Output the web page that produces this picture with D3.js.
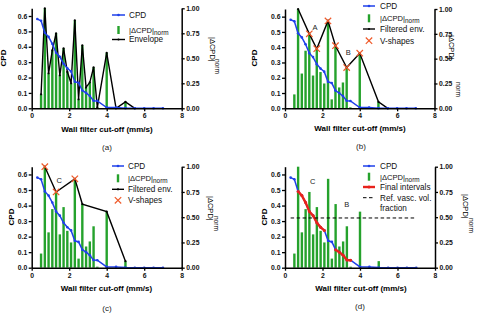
<!DOCTYPE html>
<html><head><meta charset="utf-8">
<script src="https://cdn.jsdelivr.net/npm/d3@7"></script>
<style>
html,body{margin:0;padding:0;background:#fff;}
svg{display:block;font-family:"Liberation Sans",Arial,sans-serif;}
</style></head>
<body><svg id="chart" width="480" height="322"></svg>
<script>
// ---------- data ----------
const cutoffCPD = [0.3,0.5,0.7,0.9,1.1,1.3,1.5,1.7,1.9,2.1,2.3,2.5,2.7,2.9,3.1,3.3,3.5,4.0,4.5,5.0,5.5,6.0,6.5,7.0];
const cpdValues = [0.580,0.569,0.491,0.464,0.419,0.361,0.335,0.289,0.260,0.240,0.173,0.166,0.116,0.100,0.080,0.049,0.048,0.005,0.005,0.001,0.000,0.000,0.000,0.000];
const cutoffDelta = [0.5,0.7,0.9,1.1,1.3,1.5,1.7,1.9,2.1,2.3,2.5,2.7,2.9,3.1,3.3,3.5,4.0,4.5,5.0,5.5];
const deltaNorm = [0.14,1.00,0.35,0.58,0.75,0.33,0.60,0.365,0.25,0.88,0.09,0.63,0.21,0.26,0.41,0.01,0.555,0.0,0.065,0.0];
const filtEnvBx = [0.7,1.3,1.7,2.3,2.7,3.3,4.0,5.0,5.5];
const filtEnvBy = [1.00,0.75,0.60,0.88,0.63,0.41,0.555,0.065,0.0];
const vShapeBx = [1.3,1.7,2.3,2.7,3.3,4.0];
const vShapeBy = [0.75,0.60,0.88,0.63,0.41,0.555];
const filtEnvCx = [0.7,1.3,2.3,2.7,4.0,5.0];
const filtEnvCy = [1.00,0.75,0.88,0.63,0.555,0.065];
const vShapeCx = [0.7,1.3,2.3];
const vShapeCy = [1.00,0.75,0.88];
const intervalStart = [0.7,2.7];
const intervalEnd = [2.1,3.5];
const refFraction = 0.32;
const refRange = [0.3,7.0];
const xTicks = [0,2,4,6,8];
const leftTicks = [0,0.1,0.2,0.3,0.4,0.5,0.6];
const rightTicks = [0,0.25,0.5,0.75,1.0];
const captions = ["(a)","(b)","(c)","(d)"];

// ---------- style ----------
const BLUE="#1f40ea", GREEN="#25a22c", RED="#e8231c", XCOL="#ef5a2a";
const svg = d3.select("#chart");

const panels = [
 {id:"a", x0:31.7,x1:181.7,yT:8.3,yB:108.3, cpdLab:[3,58], rl:[212.5,37,217,59], xt:[107,131.5], cap:[107,150],
  leg:{sx:112,ex:125,tx:129, rows:[["cpd","CPD",15],["bar","",30],["env","Envelope",39.5]]},
  env:"all", labels:[]},
 {id:"b", x0:285,x1:434.5,yT:9,yB:108.3, cpdLab:[254.5,58], rl:[452,35,458,82], xt:[360,131], cap:[361,149],
  leg:{sx:363,ex:375,tx:380, rows:[["cpd","CPD",6],["bar","",18.3],["env","Filtered env.",29],["vs","V-shapes",40.7]]},
  env:"B", labels:[["A",315,27.3],["B",348.3,52.3]]},
 {id:"c", x0:31.7,x1:181.7,yT:166.7,yB:267.7, cpdLab:[11,217], rl:[211,196,216,216], xt:[106.5,291], cap:[107,311],
  leg:{sx:112,ex:124,tx:128, rows:[["cpd","CPD",166],["bar","",178.3],["env","Filtered env.",189.3],["vs","V-shapes",200.3]]},
  env:"C", labels:[["C",59.3,180]]},
 {id:"d", x0:285,x1:435,yT:166.7,yB:267.7, cpdLab:[264,217], rl:[466,194,471,218], xt:[361,291], cap:[360,309],
  leg:{sx:363,ex:375,tx:380, rows:[["cpd","CPD",166],["bar","",176.7],["final","Final intervals",187],["ref","Ref. vasc. vol.",197.7]]},
  env:"D", labels:[["C",312.7,181.7],["B",346.7,204.3]]}
];

function cross(g,cx,cy,s,col,w){
  g.append("path").attr("d",`M${cx-s},${cy-s}L${cx+s},${cy+s}M${cx-s},${cy+s}L${cx+s},${cy-s}`)
   .attr("stroke",col).attr("stroke-width",w).attr("fill","none");
}

panels.forEach((p,pi)=>{
  const g = svg.append("g");
  const x = d3.scaleLinear().domain([0,8]).range([p.x0,p.x1]);
  const yL = d3.scaleLinear().domain([0,0.65]).range([p.yB,p.yT]);
  const yR = d3.scaleLinear().domain([0,1]).range([p.yB,p.yT]);

  // bars
  g.selectAll("rect.bar").data(cutoffDelta.map((c,i)=>({c,v:deltaNorm[i]})).filter(d=>d.v>0))
   .join("rect").attr("x",d=>x(d.c)-1.2).attr("width",2.4)
   .attr("y",d=>yR(d.v)).attr("height",d=>yR(0)-yR(d.v)).attr("fill",GREEN);

  // envelopes
  const lineR = d3.line().x(d=>x(d[0])).y(d=>yR(d[1]));
  let envPts = null;
  if(p.env==="all") envPts = cutoffDelta.map((c,i)=>[c,deltaNorm[i]]);
  if(p.env==="B") envPts = filtEnvBx.map((c,i)=>[c,filtEnvBy[i]]);
  if(p.env==="C") envPts = filtEnvCx.map((c,i)=>[c,filtEnvCy[i]]);
  if(envPts){
    g.append("path").attr("d",lineR(envPts)).attr("fill","none").attr("stroke","#000").attr("stroke-width",1.4);
    envPts.forEach(d=>g.append("circle").attr("cx",x(d[0])).attr("cy",yR(d[1])).attr("r",1.1).attr("fill","#000"));
  }

  // CPD line
  const cpdPts = cutoffCPD.map((c,i)=>[c,cpdValues[i]]);
  const lineL = d3.line().x(d=>x(d[0])).y(d=>yL(d[1]));
  g.append("path").attr("d",lineL(cpdPts)).attr("fill","none").attr("stroke",BLUE).attr("stroke-width",1.5);
  cpdPts.forEach(d=>g.append("circle").attr("cx",x(d[0])).attr("cy",yL(d[1])).attr("r",1.3).attr("fill",BLUE));

  if(p.env==="D"){
    intervalStart.forEach((s,k)=>{
      const pts = cpdPts.filter(d=>d[0]>=s-1e-9 && d[0]<=intervalEnd[k]+1e-9);
      g.append("path").attr("d",lineL(pts)).attr("fill","none").attr("stroke",RED).attr("stroke-width",2.4);
      pts.forEach(d=>g.append("circle").attr("cx",x(d[0])).attr("cy",yL(d[1])).attr("r",1.5).attr("fill",RED));
    });
    g.append("line").attr("x1",x(refRange[0])).attr("x2",x(refRange[1]))
     .attr("y1",yL(refFraction)).attr("y2",yL(refFraction))
     .attr("stroke","#000").attr("stroke-width",1).attr("stroke-dasharray","3.5,2.5");
  }
  // V-shapes
  let vx=null, vy=null;
  if(p.env==="B"){vx=vShapeBx;vy=vShapeBy;}
  if(p.env==="C"){vx=vShapeCx;vy=vShapeCy;}
  if(vx) vx.forEach((c,i)=>cross(g,x(c),yR(vy[i]),3.2,XCOL,1.2));

  // axes
  const fs = "6.8px";
  const ax = g.append("g").attr("transform",`translate(0,${p.yB})`)
    .call(d3.axisBottom(x).tickValues(xTicks).tickFormat(d3.format("d")).tickSize(3).tickSizeOuter(0).tickPadding(2));
  const al = g.append("g").attr("transform",`translate(${p.x0},0)`)
    .call(d3.axisLeft(yL).tickValues(leftTicks).tickFormat(d3.format(".1f")).tickSize(3).tickSizeOuter(0).tickPadding(1.5));
  const ar = g.append("g").attr("transform",`translate(${p.x1},0)`)
    .call(d3.axisRight(yR).tickValues(rightTicks).tickFormat(d3.format(".2f")).tickSize(3).tickSizeOuter(0).tickPadding(1.5));
  [ax,al,ar].forEach(a=>{
    a.selectAll(".domain").attr("stroke","#000").attr("stroke-width",1.5);
    a.selectAll(".tick line").attr("stroke","#000").attr("stroke-width",1.3);
    a.selectAll("text").attr("font-size",fs).attr("font-weight","bold").attr("fill","#111")
      .attr("font-family","Liberation Sans, Arial, sans-serif");
  });

  // titles
  g.append("text").attr("x",p.xt[0]).attr("y",p.xt[1]).attr("text-anchor","middle")
   .attr("font-size","8px").attr("font-weight","bold").text("Wall filter cut-off (mm/s)");
  g.append("text").attr("transform",`translate(${p.cpdLab[0]},${p.cpdLab[1]}) rotate(-90)`)
   .attr("text-anchor","middle").attr("dy","0.35em").attr("font-size","8px").attr("font-weight","bold").text("CPD");
  g.append("text").attr("transform",`translate(${p.rl[0]},${p.rl[1]}) rotate(90)`)
   .attr("dy","0.35em").attr("font-size","7.5px").text("|ΔCPD|");
  g.append("text").attr("transform",`translate(${p.rl[2]},${p.rl[3]}) rotate(90)`)
   .attr("dy","0.35em").attr("font-size","6.5px").text("norm");
  g.append("text").attr("x",p.cap[0]).attr("y",p.cap[1]).attr("text-anchor","middle")
   .attr("font-size","8px").attr("fill","#222").text(captions[pi]);
  p.labels.forEach(l=>g.append("text").attr("x",l[1]).attr("y",l[2]).attr("dy","0.35em")
   .attr("text-anchor","middle").attr("font-size","7.5px").attr("fill","#222").text(l[0]));

  // legend
  const L = p.leg, mx=(L.sx+L.ex)/2;
  L.rows.forEach(r=>{
    const [type,label,cy]=r;
    if(type==="cpd"){
      g.append("line").attr("x1",L.sx).attr("x2",L.ex).attr("y1",cy).attr("y2",cy).attr("stroke",BLUE).attr("stroke-width",1.5);
      g.append("circle").attr("cx",mx).attr("cy",cy).attr("r",1.3).attr("fill",BLUE);
    } else if(type==="bar"){
      g.append("rect").attr("x",mx-1.2).attr("width",2.4).attr("y",cy-4).attr("height",8).attr("fill",GREEN);
    } else if(type==="env"){
      g.append("line").attr("x1",L.sx).attr("x2",L.ex).attr("y1",cy).attr("y2",cy).attr("stroke","#000").attr("stroke-width",1.4);
      g.append("circle").attr("cx",mx).attr("cy",cy).attr("r",1.1).attr("fill","#000");
    } else if(type==="vs"){
      cross(g,mx,cy,3.2,XCOL,1.2);
    } else if(type==="final"){
      g.append("line").attr("x1",L.sx).attr("x2",L.ex).attr("y1",cy).attr("y2",cy).attr("stroke",RED).attr("stroke-width",2.4);
      g.append("circle").attr("cx",mx).attr("cy",cy).attr("r",1.5).attr("fill",RED);
    } else if(type==="ref"){
      g.append("line").attr("x1",L.sx).attr("x2",L.ex).attr("y1",cy).attr("y2",cy).attr("stroke","#000").attr("stroke-width",1).attr("stroke-dasharray","3.5,2.5");
    }
    const t = g.append("text").attr("x",L.tx).attr("y",cy).attr("dy","0.35em").attr("font-size","8.2px").attr("fill","#111");
    if(type==="bar"){
      t.append("tspan").attr("font-size","7.6px").text("|ΔCPD|");
      t.append("tspan").attr("font-size","6.4px").attr("dy","2.2").text("norm");
    } else t.text(label);
    if(type==="ref"){
      g.append("text").attr("x",L.tx).attr("y",cy+10.6).attr("dy","0.35em").attr("font-size","8.2px").attr("fill","#111").text("fraction");
    }
  });
});
</script></body></html>
